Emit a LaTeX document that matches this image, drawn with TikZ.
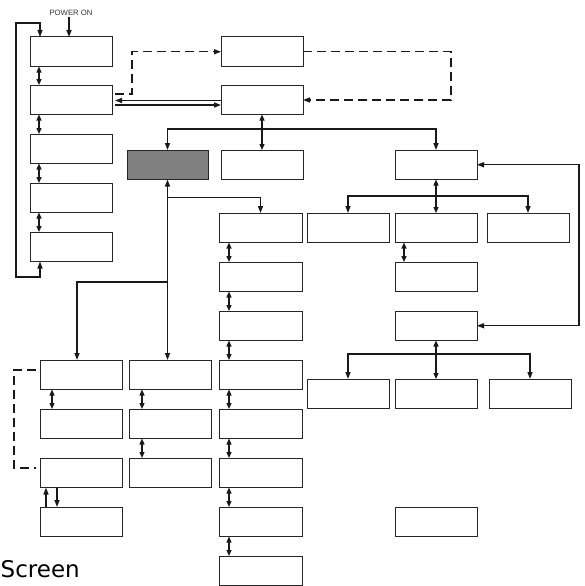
\documentclass[tikz,border=0pt]{standalone}
\usepackage{fontspec}
\setmainfont{Liberation Sans}
\newfontfamily\scrfont{DejaVu Sans}
\usetikzlibrary{calc,arrows.meta}
\tikzset{
  box/.style={draw=black!85, line width=1pt, minimum width=82pt, minimum height=29.5pt, inner sep=0pt, anchor=north west, outer sep=0pt},
  widebox/.style={box, minimum width=83pt},
  graybox/.style={box, fill=black!50, minimum width=81pt},
  conn/.style={line width=1.3pt, black!90},
  arr/.style={conn, -{Stealth[length=7pt,width=5pt,inset=0pt]}},
  dbl/.style={conn, {Stealth[length=6pt,width=5pt,inset=0pt]}-{Stealth[length=6pt,width=5pt,inset=0pt]}},
  both/.style={conn, {Stealth[length=7pt,width=5pt,inset=0pt]}-{Stealth[length=7pt,width=5pt,inset=0pt]}},
  dsh/.style={dash pattern=on 9pt off 5pt}
}
\begin{document}
\begin{tikzpicture}[x=1pt,y=-1pt]
\useasboundingbox (0,0) rectangle (584,586);
% left column
\node[box] (L1) at (30,37) {};
\node[box] (L2) at (30,85) {};
\node[box] (L3) at (30,134) {};
\node[box] (L4) at (30,183) {};
\node[box] (L5) at (30,232) {};
% top middle
\node[box] (A) at (221,37) {};
\node[box] (B) at (221,85) {};
% second row
\node[graybox] (G0) at (127,150) {};
\node[box] (C) at (221,150) {};
\node[box] (D) at (395,150) {};
% E column
\node[widebox] (E1) at (219,213) {};
\node[widebox] (E2) at (219,262) {};
\node[widebox] (E3) at (219,311) {};
\node[widebox] (E4) at (219,360) {};
\node[widebox] (E5) at (219,409) {};
\node[widebox] (E6) at (219,458) {};
\node[widebox] (E7) at (219,507) {};
\node[widebox] (E8) at (219,556) {};
% right part
\node[box] (F1) at (307,213) {};
\node[box] (F2) at (395,213) {};
\node[box] (F3) at (487,213) {};
\node[box] (G) at (395,262) {};
\node[box] (H) at (395,311) {};
\node[box] (I1) at (307,379) {};
\node[box] (I2) at (395,379) {};
\node[box] (I3) at (489,379) {};
\node[box] (J) at (395,507) {};
% bottom left columns
\node[box] (P1) at (40,360) {};
\node[box] (P2) at (40,409) {};
\node[box] (P3) at (40,458) {};
\node[box] (P4) at (40,507) {};
\node[box] (Q1) at (129,360) {};
\node[box] (Q2) at (129,409) {};
\node[box] (Q3) at (129,458) {};
% texts
\node[font=\fontsize{7.7}{8}\selectfont, inner sep=0pt, text=black!80] (pwr) at (71,12.5) {POWER ON};
\node[font=\scrfont\fontsize{23}{26}\selectfont, inner sep=0pt, anchor=base west] (scr) at (0.5,577) {Screen};
% power on
\draw[arr] ($(L1.north west)+(39,-20)$) -- ($(L1.north west)+(39,0)$);
% loop
\coordinate (lpT) at (16,23);
\coordinate (lpB) at (16,277);
\draw[both] ($(L1.north west)+(10,0)$) |- (lpT) -- (lpB) -| ($(L5.south west)+(10,0)$);
% left column double arrows
\foreach \a/\b in {L1/L2,L2/L3,L3/L4,L4/L5}
  \draw[dbl] ($(\a.south west)+(9,0)$) -- ($(\b.north west)+(9,0)$);
% L2 <-> B
\draw[arr] ($(B.north west)+(0,15.5)$) -- ($(L2.north east)+(3,15.5)$);
\draw[arr] ($(L2.north east)+(3,20)$) -- ($(B.north west)+(0,20)$);
% dashed L2 -> A
\draw[arr, dsh] ($(L2.north east)+(3,9)$) -| ($(A.west)+(-89,0)$) -- (A.west);
% dashed A -> B
\draw[arr, dsh] (A.east) -- ++(148,0) |- ($(B.north east)+(0,15)$);
% B down
\draw[dbl] (B.south) -- (C.north);
\coordinate (h1) at (0,129);
\draw[arr] (B.south |- h1) -| (G0.north);
\draw[arr] (B.south |- h1) -| (D.north);
% gray box connections
\coordinate (g1) at ($(G0.south)+(0,18)$);
\draw[arr] (g1) -- (G0.south);
\draw[arr] (g1) -| (E1.north);
\draw[arr] (g1) -- (G0.south |- Q1.north);
\coordinate (h2) at (0,282);
\draw[arr] (G0.south |- h2) -| ($(P1.north west)+(37,0)$);
% E column
\foreach \a/\b in {E1/E2,E2/E3,E3/E4,E4/E5,E5/E6,E6/E7,E7/E8}
  \draw[dbl] ($(\a.south west)+(10,0)$) -- ($(\b.north west)+(10,0)$);
% D tree
\draw[dbl] (D.south) -- (F2.north);
\coordinate (h3) at (0,196);
\draw[arr] (D.south |- h3) -| (F1.north);
\draw[arr] (D.south |- h3) -| (F3.north);
\draw[dbl] ($(F2.south west)+(9,0)$) -- ($(G.north west)+(9,0)$);
% D <-> H
\draw[both] (D.east) -- ++(102,0) |- (H.east);
% H tree
\draw[dbl] (H.south) -- (I2.north);
\coordinate (h4) at (0,354);
\draw[arr] (H.south |- h4) -| (I1.north);
\draw[arr] (H.south |- h4) -| (I3.north);
% P and Q columns
\draw[dbl] ($(P1.south west)+(12,0)$) -- ($(P2.north west)+(12,0)$);
\draw[arr] ($(P4.north west)+(6,0)$) -- ($(P3.south west)+(6,0)$);
\draw[arr] ($(P3.south west)+(17,0)$) -- ($(P4.north west)+(17,0)$);
\draw[dbl] ($(Q1.south west)+(13,0)$) -- ($(Q2.north west)+(13,0)$);
\draw[dbl] ($(Q2.south west)+(13,0)$) -- ($(Q3.north west)+(13,0)$);
% dashed P1 - P3
\draw[conn, dsh] ($(P1.north west)+(-4,10)$) -- ++(-22,0) |- ($(P3.north west)+(-4,10)$);
\end{tikzpicture}
\end{document}
